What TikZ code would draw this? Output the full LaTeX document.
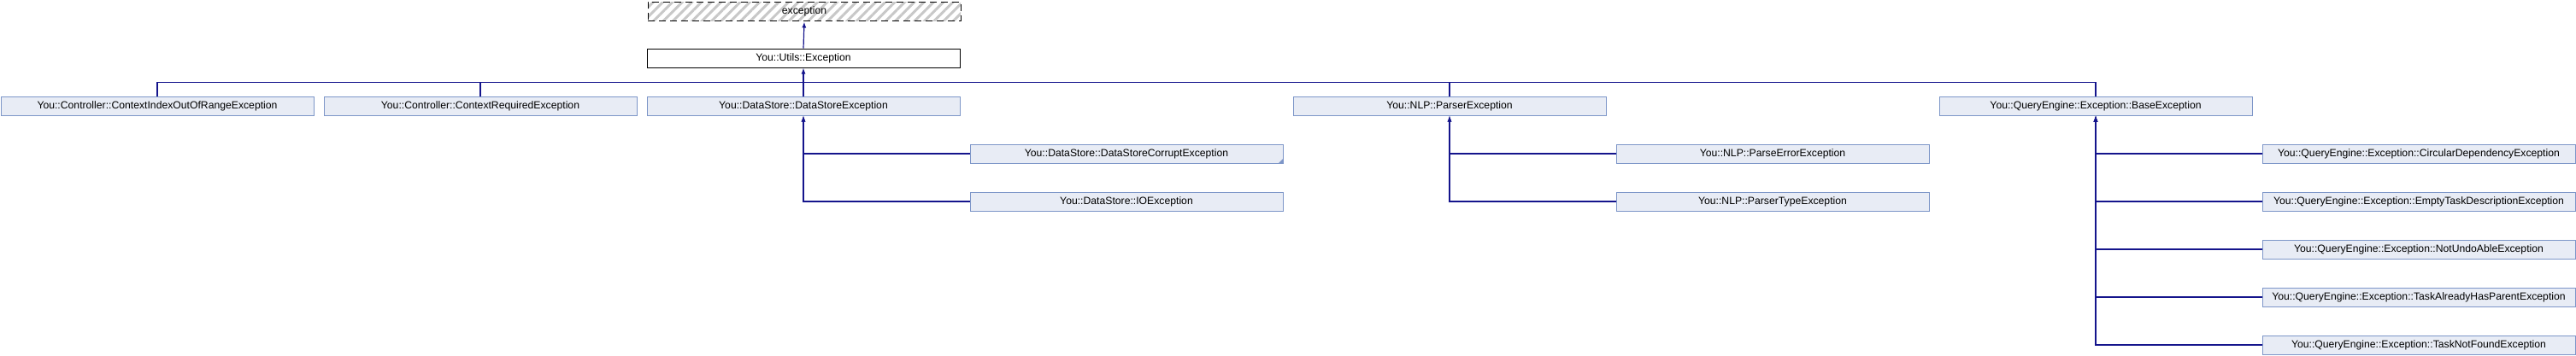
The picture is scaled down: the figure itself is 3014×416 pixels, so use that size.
\documentclass[tikz,border=0pt]{standalone}
\usepackage{fontspec}
\setmainfont{Liberation Sans}
\usetikzlibrary{arrows.meta,patterns.meta}
\definecolor{edgec}{RGB}{20,20,140}
\definecolor{boxfill}{RGB}{232,236,245}
\definecolor{boxdraw}{RGB}{125,150,200}
\definecolor{hatchc}{RGB}{200,200,200}
\tikzset{
  base/.style={minimum width=366pt, minimum height=22pt, inner sep=0pt, anchor=north west,
    font=\fontsize{12.2pt}{14pt}\selectfont},
  cls/.style={base, draw=boxdraw, fill=boxfill, line width=1pt},
  ext/.style={base, draw=black, line width=1pt, dash pattern=on 8pt off 5pt,
    pattern={Lines[angle=45,distance=8pt,line width=3pt]}, pattern color=hatchc},
  edge/.style={draw=edgec, line width=1.2pt},
  inh/.style={edge, -{Latex[length=7pt,width=5pt]}},
}
\begin{document}
\begin{tikzpicture}[x=1pt,y=-1pt]
\useasboundingbox (0,0) rectangle (3014,416);
% top
\node[ext] (exc) at (756.5,0.5) {exception};
\node[cls, draw=black, fill=white] (utils) at (756.5,56.5) {You::Utils::Exception};
% row 2
\node[cls] (cioor) at (0.5,112.5) {You::Controller::ContextIndexOutOfRangeException};
\node[cls] (creq) at (378.5,112.5) {You::Controller::ContextRequiredException};
\node[cls] (dse) at (756.5,112.5) {You::DataStore::DataStoreException};
\node[cls] (npe) at (1512.5,112.5) {You::NLP::ParserException};
\node[cls] (qbe) at (2268.5,112.5) {You::QueryEngine::Exception::BaseException};
% DataStore children
\node[cls] (dsc) at (1134.5,168.5) {You::DataStore::DataStoreCorruptException};
\node[cls] (dio) at (1134.5,224.5) {You::DataStore::IOException};
% NLP children
\node[cls] (npee) at (1890.5,168.5) {You::NLP::ParseErrorException};
\node[cls] (npte) at (1890.5,224.5) {You::NLP::ParserTypeException};
% QueryEngine children
\node[cls] (qcd) at (2646.5,168.5) {You::QueryEngine::Exception::CircularDependencyException};
\node[cls] (qet) at (2646.5,224.5) {You::QueryEngine::Exception::EmptyTaskDescriptionException};
\node[cls] (qnu) at (2646.5,280.5) {You::QueryEngine::Exception::NotUndoAbleException};
\node[cls] (qtp) at (2646.5,336.5) {You::QueryEngine::Exception::TaskAlreadyHasParentException};
\node[cls] (qtn) at (2646.5,392.5) {You::QueryEngine::Exception::TaskNotFoundException};
% truncated marker
\fill[boxdraw] (dsc.south east) -- ++(-6,0) -- ++(6,-6) -- cycle;
% connectors
\draw[inh] (utils.north) -- (exc.south);
\coordinate (bus) at (939.5,96.5);
\draw[edge] (cioor.north) |- (bus);
\draw[edge] (creq.north) |- (bus);
\draw[edge] (npe.north) |- (bus);
\draw[edge] (qbe.north) |- (bus);
\draw[inh] (dse.north) -- (utils.south);
\draw[inh] (dsc.west) -| (dse.south);
\draw[inh] (dio.west) -| (dse.south);
\draw[inh] (npee.west) -| (npe.south);
\draw[inh] (npte.west) -| (npe.south);
\draw[inh] (qcd.west) -| (qbe.south);
\draw[inh] (qet.west) -| (qbe.south);
\draw[inh] (qnu.west) -| (qbe.south);
\draw[inh] (qtp.west) -| (qbe.south);
\draw[inh] (qtn.west) -| (qbe.south);
\end{tikzpicture}
\end{document}
